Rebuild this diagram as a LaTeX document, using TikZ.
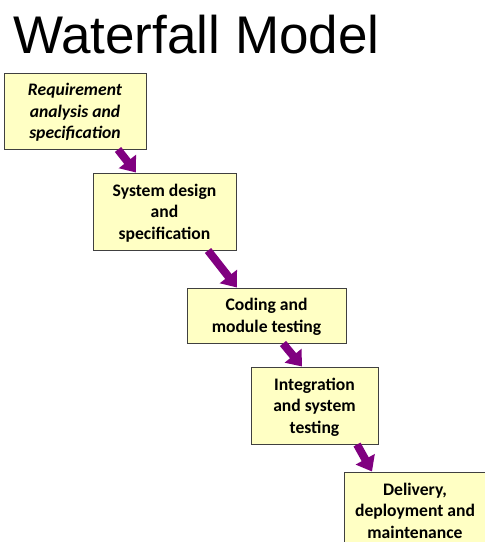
\documentclass[tikz,border=0pt]{standalone}
\usepackage{fontspec}
\setmainfont{Carlito}
\newfontfamily\titlefont{Liberation Sans}
\usetikzlibrary{arrows.meta}
\definecolor{boxfill}{HTML}{FFFFC4}
\definecolor{boxline}{HTML}{404040}
\definecolor{flowcol}{HTML}{800080}
\tikzset{
  stage/.style={draw=boxline, line width=1pt, fill=boxfill, align=center, inner sep=2pt,
    text depth=0pt, font=\fontsize{17.6}{21.4}\selectfont\bfseries},
  flow/.style={draw=flowcol, line width=8pt, -{Triangle[width=21pt,length=14pt]}, shorten >=0pt}
}
\begin{document}
\begin{tikzpicture}[x=1pt,y=-1pt]
\useasboundingbox (0,0) rectangle (485,542);
\clip (0,0) rectangle (485,542);
\node[anchor=base west, inner sep=0pt, font=\fontsize{53}{56}\selectfont\titlefont] (title) at (13,53) {Waterfall Model};
\node[stage, minimum width=142pt, minimum height=76pt] (req) at (75,111) {\itshape Requirement\\\itshape analysis and\\\itshape specification};
\node[stage, minimum width=143pt, minimum height=77pt] (sys) at (164.5,211.5) {System design\\and\\specification};
\node[stage, minimum width=159pt, minimum height=55pt] (cod) at (266.5,315.5) {Coding and\\module testing};
\node[stage, minimum width=127pt, minimum height=77pt] (int) at (314.5,405.5) {Integration\\and system\\testing};
\node[stage, minimum width=142pt, minimum height=77pt] (del) at (415,510.5) {Delivery,\\deployment and\\maintenance};
\draw[flow] ([xshift=43pt]req.south) -- ([xshift=-28.5pt]sys.north);
\draw[flow] ([xshift=43.5pt]sys.south) -- ([xshift=-29.5pt]cod.north);
\draw[flow] ([xshift=16.5pt]cod.south) -- ([xshift=-12.5pt]int.north);
\draw[flow] ([xshift=42.5pt]int.south) -- ([xshift=-43pt]del.north);
\end{tikzpicture}
\end{document}
